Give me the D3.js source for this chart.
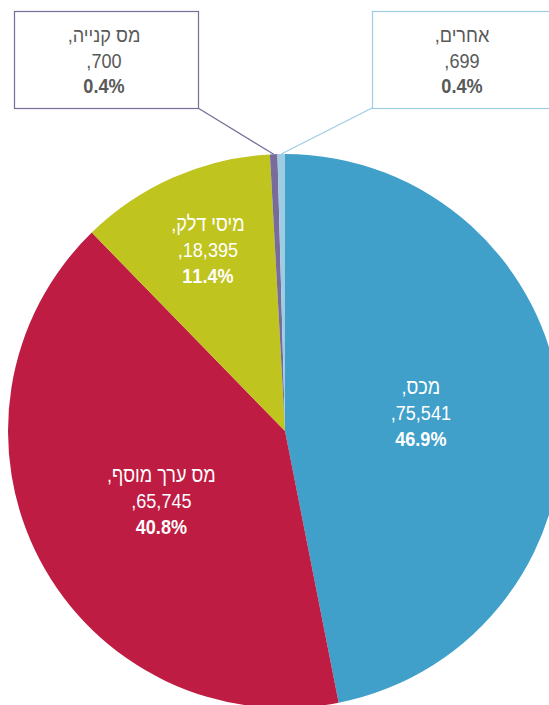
<!DOCTYPE html>
<html lang="he">
<head>
<meta charset="utf-8">
<script src="https://cdn.jsdelivr.net/npm/d3@7"></script>
<style>
  html, body { margin: 0; padding: 0; background: #fff; }
  svg { display: block; }
  text { font-family: "Liberation Sans", "DejaVu Sans Condensed", sans-serif; }
</style>
</head>
<body>
<svg id="chart" width="549" height="705"></svg>
<script>
// ---- data ----
const categories = ["מכס", "מס ערך מוסף", "מיסי דלק", "מס קנייה", "אחרים"];
const values = [75541, 65745, 18395, 700, 699];
const colors = ["#41a0ca", "#be1c42", "#bfc41f", "#786c9a", "#9ecde3"];
const insideLabel = [true, true, true, false, false];

// ---- layout ----
const W = 549, H = 705;
const cx = 285, cy = 431, R = 277;
const labelNudge = [[-2, -4.5], [-1, 5.6], [3, 1.5]];
const svg = d3.select("#chart");
const total = d3.sum(values);
const fmtNum = d3.format(",");
const fmtPct = d3.format(".1%");

const data = categories.map((c, i) => ({ name: c, value: values[i], color: colors[i], inside: insideLabel[i] }));

const pie = d3.pie().value(d => d.value).sort(null);
const arcs = pie(data);
const arc = d3.arc().innerRadius(0).outerRadius(R);

const g = svg.append("g").attr("transform", `translate(${cx},${cy})`);
g.selectAll("path").data(arcs).join("path")
  .attr("d", arc)
  .attr("fill", d => d.data.color);

function label(parent, x, y, d, size, sx, fill) {
  const t = parent.append("text")
    .attr("transform", `translate(${x},${y}) scale(${sx},1)`)
    .attr("text-anchor", "middle")
    .attr("direction", "rtl")
    .attr("fill", fill)
    .attr("font-size", size);
  const lines = [d.data.name + ",", fmtNum(d.data.value) + ",", fmtPct(d.data.value / total)];
  lines.forEach((s, i) => {
    t.append("tspan")
      .attr("x", 0)
      .attr("y", (i - 1) * 25.7)
      .attr("font-weight", i === 2 ? "bold" : "normal")
      .text(s);
  });
}

// inside labels
arcs.filter(d => d.data.inside).forEach((d, j) => {
  const k = (d.data.value / total) < 0.2 ? 0.72 : 0.5;
  const la = d3.arc().innerRadius(R * k).outerRadius(R * k);
  const [x, y] = la.centroid(d);
  label(g, x + labelNudge[j][0], y + 7 + labelNudge[j][1], d, 21, 0.86, "#ffffff");
});

// outside callout boxes
const boxes = [
  { idx: 3, x: 14, y: 11, w: 184, h: 97, anchorX: 198 },
  { idx: 4, x: 372, y: 11, w: 184, h: 97, anchorX: 372 }
];
boxes.forEach(b => {
  const d = arcs[b.idx];
  const oa = d3.arc().innerRadius(R).outerRadius(R);
  const [px, py] = oa.centroid(d);
  svg.append("line")
    .attr("x1", b.anchorX).attr("y1", b.y + b.h)
    .attr("x2", cx + px).attr("y2", cy + py)
    .attr("stroke", d.data.color).attr("stroke-width", 1.2);
  svg.append("rect")
    .attr("x", b.x + 0.5).attr("y", b.y + 0.5)
    .attr("width", b.w).attr("height", b.h)
    .attr("fill", "#fff")
    .attr("stroke", d.data.color).attr("stroke-width", 1.2);
  label(svg, b.x + b.w / 2 - 2, 67.5, d, 19.5, 0.93, "#595959");
});
</script>
</body>
</html>
